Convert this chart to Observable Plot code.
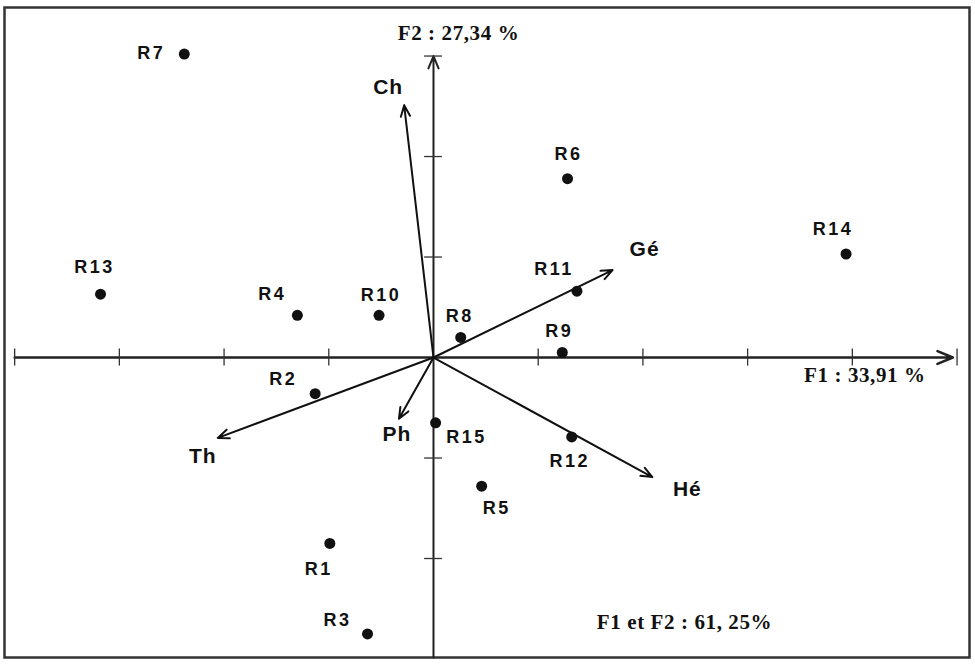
<!DOCTYPE html>
<html>
<head>
<meta charset="utf-8">
<script src="https://cdn.jsdelivr.net/npm/d3@7"></script>
<script src="https://cdn.jsdelivr.net/npm/@observablehq/plot@0.6"></script>
<style>
  html, body { margin: 0; padding: 0; background: #fff; }
  .rlab, .rlab text { letter-spacing: 2.5px; }
  .vlab, .vlab text { letter-spacing: 1px; }
  .slab, .slab text { letter-spacing: 0.6px; }
</style>
</head>
<body>
<div id="chart"></div>
<script>
// Individuals (relevés) on factorial plane F1 x F2
const individuals = ["R1","R2","R3","R4","R5","R6","R7","R8","R9","R10","R11","R12","R13","R14","R15"];
const f1 = [-0.99, -1.13, -0.63, -1.30, 0.46, 1.28, -2.38, 0.26, 1.23, -0.52, 1.37, 1.32, -3.18, 3.94, 0.02];
const f2 = [-1.85, -0.36, -2.75, 0.42, -1.28, 1.78, 3.02, 0.20, 0.05, 0.42, 0.66, -0.79, 0.63, 1.03, -0.65];

// Variables (arrows)
const variables = ["Ch", "Gé", "Hé", "Th", "Ph"];
const varF1 = [-0.28, 1.71, 2.09, -2.06, -0.33];
const varF2 = [2.51, 0.87, -1.19, -0.80, -0.61];

// Axis ticks
const xTicks = [-4, -3, -2, -1, 1, 2, 3, 4, 5];
const yTicks = [-2, -1, 1, 2, 3];

// Texts
const xTitle = "F1 : 33,91 %";
const yTitle = "F2 : 27,34 %";
const totalNote = "F1 et F2 : 61, 25%";

// Label placement (pixel offsets from each point)
const labelOffsets = [[-11,26],[-32,-14],[-30,-14],[-25,-21],[15,22],[1,-24],[-33,-1],[-1,-21],[-3,-21],[2,-20],[-23,-22],[-2,24],[-6,-27],[-13,-25],[31,14]];
const varLabelOffsets = [[-16,-18],[32,-21],[35,12],[-15,18],[-2,15]];

const pts = individuals.map((name, i) => ({name, f1: f1[i], f2: f2[i], dx: labelOffsets[i][0], dy: labelOffsets[i][1]}));
const vars = variables.map((name, i) => ({name, f1: varF1[i], f2: varF2[i], dx: varLabelOffsets[i][0], dy: varLabelOffsets[i][1]}));

const xDom = [-4.097, 5.119];
const yDom = [-2.985, 3.483];
const ink = "#111";
const serif = "Liberation Serif, Times New Roman, serif";

const plot = Plot.plot({
  width: 975,
  height: 664,
  marginLeft: 4,
  marginRight: 6,
  marginTop: 7,
  marginBottom: 7,
  x: {domain: xDom, axis: null},
  y: {domain: yDom, axis: null},
  style: {fontFamily: "Liberation Sans, Arial, sans-serif", background: "#fff", overflow: "visible"},
  marks: [
    Plot.frame({stroke: "#333", strokeWidth: 2.5}),
    // axes
    Plot.arrow([0], {x1: -4, y1: 0, x2: 4.96, y2: 0, stroke: "#222", strokeWidth: 2.5, headLength: 10, headAngle: 45}),
    Plot.arrow([0], {x1: 0, y1: yDom[0], x2: 0, y2: 3.0, stroke: "#222", strokeWidth: 2, headLength: 10, headAngle: 45}),
    Plot.ruleX(xTicks, {x: d => d, y1: -0.085, y2: 0.085, stroke: "#333", strokeWidth: 1.3}),
    Plot.ruleY(yTicks, {y: d => d, x1: -0.085, x2: 0.085, stroke: "#333", strokeWidth: 1.3}),
    // variable arrows
    Plot.arrow(vars, {x1: 0, y1: 0, x2: "f1", y2: "f2", stroke: ink, strokeWidth: 2, headLength: 9, headAngle: 45}),
    // points
    Plot.dot(pts, {x: "f1", y: "f2", r: 5.5, fill: ink, stroke: "none"}),
    // point labels
    ...pts.map(p => Plot.text([p], {x: "f1", y: "f2", text: "name", dx: p.dx, dy: p.dy, fontSize: 18, fontWeight: "bold", fill: "#111", className: "rlab"})),
    // variable labels
    ...vars.map(v => Plot.text([v], {x: "f1", y: "f2", text: "name", dx: v.dx, dy: v.dy, fontSize: 21, fontWeight: "bold", fill: "#111", className: "vlab"})),
    // axis titles
    Plot.text([yTitle], {x: 0, y: yDom[1], text: d => d, dx: 25, dy: 26, fontSize: 21, fontWeight: "bold", fontFamily: serif, fill: "#111", className: "slab"}),
    Plot.text([xTitle], {x: 4.96, y: 0, text: d => d, dx: -88, dy: 18, fontSize: 21, fontWeight: "bold", fontFamily: serif, fill: "#111", className: "slab"}),
    Plot.text([totalNote], {x: 0, y: yDom[0], text: d => d, dx: 251, dy: -35, fontSize: 21, fontWeight: "bold", fontFamily: serif, fill: "#111", className: "slab"})
  ]
});
document.getElementById("chart").appendChild(plot);
</script>
</body>
</html>
